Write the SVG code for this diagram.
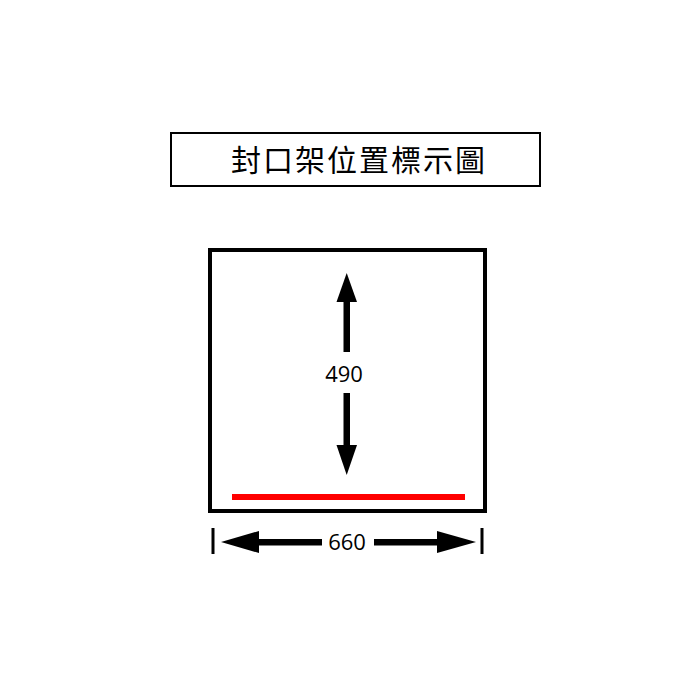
<svg xmlns="http://www.w3.org/2000/svg" width="700" height="700" viewBox="0 0 700 700">
<style>
.box{fill:#fff;stroke:#000}
.t{font-family:"Noto Sans CJK TC","Noto Sans",sans-serif;font-size:30px;fill:#000}
.n{font-family:"Open Sans","Noto Sans",sans-serif;font-size:22px;fill:#000;text-anchor:middle}
.ar{fill:#000}
</style>
<rect width="700" height="700" fill="#fff"/>
<g id="title">
<rect class="box" x="171" y="133" width="369" height="53" stroke-width="2"/>
<text class="t" x="359" y="171" text-anchor="middle" letter-spacing="2">封口架位置標示圖</text>
</g>
<g id="frame">
<rect class="box" x="210" y="250" width="275" height="261" stroke-width="4"/>
<line x1="232" y1="497" x2="465" y2="497" stroke="#ff0000" stroke-width="6"/>
</g>
<g id="connectors">
<g id="dim-490">
<rect class="ar" x="343.5" y="300" width="6.5" height="52"/>
<polygon class="ar" points="346.7,273 357,302 336.5,302"/>
<rect class="ar" x="343.5" y="393" width="6.5" height="54"/>
<polygon class="ar" points="346.7,475 357,445 336.5,445"/>
<text class="n" x="344" y="382">490</text>
</g>
<g id="dim-660">
<rect class="ar" x="211.5" y="528" width="3" height="26"/>
<rect class="ar" x="480.5" y="528" width="3" height="26"/>
<polygon class="ar" points="221,542 259,531 259,553"/>
<rect class="ar" x="257" y="539" width="65" height="6.5"/>
<polygon class="ar" points="476,542 437,531 437,553"/>
<rect class="ar" x="374" y="539" width="65" height="6.5"/>
<text class="n" x="347" y="550">660</text>
</g>
</g>
</svg>
